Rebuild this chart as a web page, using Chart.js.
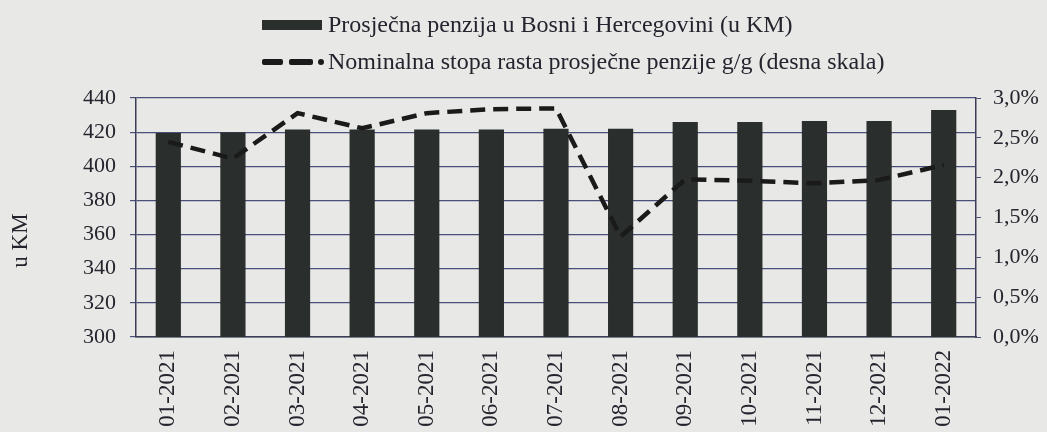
<!DOCTYPE html>
<html>
<head>
<meta charset="utf-8">
<script src="https://cdn.jsdelivr.net/npm/chart.js@4/dist/chart.umd.min.js"></script>
<style>
  html, body { margin: 0; padding: 0; background: #e8e8e6; }
  #wrap { position: relative; width: 1047px; height: 432px; }
  #c { position: absolute; left: 0; top: 0; }
  #legend { position: absolute; left: 262px; top: 6px; font-family: 'Liberation Serif', 'Times New Roman', serif; font-size: 24px; color: #24242e; }
  .row { display: flex; align-items: center; height: 37px; white-space: nowrap; }
  .sym { width: 66px; height: 12px; position: relative; flex: none; }
  .bar { position: absolute; left: 0; top: 1px; width: 60px; height: 10px; background: #2a2e2c; }
  .d1 { position: absolute; left: 0; top: 3px; width: 21px; height: 6px; background: #1a1a1a; border-radius: 2px; }
  .d2 { position: absolute; left: 27px; top: 3px; width: 24px; height: 6px; background: #1a1a1a; border-radius: 2px; }
  .dot { position: absolute; left: 56px; top: 3px; width: 6px; height: 6px; background: #1a1a1a; border-radius: 3px; }
</style>
</head>
<body>
<div id="wrap">
  <canvas id="c" width="1047" height="432"></canvas>
  <div id="legend"></div>
</div>
<script>
const categories = ['01-2021','02-2021','03-2021','04-2021','05-2021','06-2021','07-2021','08-2021','09-2021','10-2021','11-2021','12-2021','01-2022'];
const pension = [419.5, 420, 421.5, 421.5, 421.5, 421.5, 422, 422, 426, 426, 426.5, 426.5, 433];
const growth = [2.45, 2.24, 2.81, 2.62, 2.81, 2.86, 2.87, 1.26, 1.98, 1.96, 1.93, 1.97, 2.16];
const leftTicks = [300, 320, 340, 360, 380, 400, 420, 440];
const rightTicks = ['0,0%', '0,5%', '1,0%', '1,5%', '2,0%', '2,5%', '3,0%'];
const barLabel = 'Prosječna penzija u Bosni i Hercegovini (u KM)';
const lineLabel = 'Nominalna stopa rasta prosječne penzije g/g (desna skala)';
const yTitle = 'u KM';

Chart.defaults.font.family = "'Liberation Serif', 'Times New Roman', serif";
Chart.defaults.font.size = 22;
Chart.defaults.color = '#24242e';

const chart = new Chart(document.getElementById('c'), {
  data: {
    labels: categories,
    datasets: [
      {
        type: 'line', label: lineLabel, data: growth, yAxisID: 'y2', order: 0,
        borderColor: '#1a1a1a', borderWidth: 4.5, borderDash: [15, 8],
        pointRadius: 0, fill: false, tension: 0
      },
      {
        type: 'bar', label: barLabel, data: pension, yAxisID: 'y', order: 1,
        backgroundColor: '#2a2e2c', barPercentage: 0.39, categoryPercentage: 1
      }
    ]
  },
  options: {
    responsive: false,
    animation: false,
    layout: { padding: { top: 98, right: 0, bottom: 2, left: 0 } },
    plugins: { legend: { display: false }, tooltip: { enabled: false } },
    scales: {
      x: {
        grid: { display: false },
        border: { display: true, color: '#3a3d55', width: 1.5 },
        ticks: { minRotation: 90, maxRotation: 90, padding: 5, font: { size: 23 } },
        afterFit: (s) => { s.height = 93; }
      },
      y: {
        position: 'left', min: 300, max: 440,
        afterBuildTicks: (s) => { s.ticks = leftTicks.map(v => ({ value: v })); },
        grid: { color: '#4a4f7a', lineWidth: 1.2, tickLength: 6 },
        border: { display: true, color: '#3a3d55', width: 1.5 },
        ticks: { padding: 14 },
        title: { display: true, text: yTitle + '        ', font: { size: 23 }, padding: { top: 7, bottom: 50 } },
        afterFit: (s) => { s.width = 136; }
      },
      y2: {
        position: 'right', min: 0, max: 3,
        afterBuildTicks: (s) => { s.ticks = rightTicks.map((t, i) => ({ value: i * 0.5 })); },
        grid: { drawOnChartArea: false, color: '#4a4f7a', tickLength: 5 },
        border: { display: true, color: '#3a3d55', width: 1.5 },
        ticks: { padding: 12, callback: (v, i) => rightTicks[i] },
        afterFit: (s) => { s.width = 71; }
      }
    }
  }
});

// HTML legend built from dataset labels
const lg = document.getElementById('legend');
const barDs = chart.data.datasets.find(d => d.type === 'bar');
const lineDs = chart.data.datasets.find(d => d.type === 'line');
lg.innerHTML =
  '<div class="row"><span class="sym"><span class="bar"></span></span><span>' + barDs.label + '</span></div>' +
  '<div class="row"><span class="sym"><span class="d1"></span><span class="d2"></span><span class="dot"></span></span><span>' + lineDs.label + '</span></div>';
</script>
</body>
</html>
